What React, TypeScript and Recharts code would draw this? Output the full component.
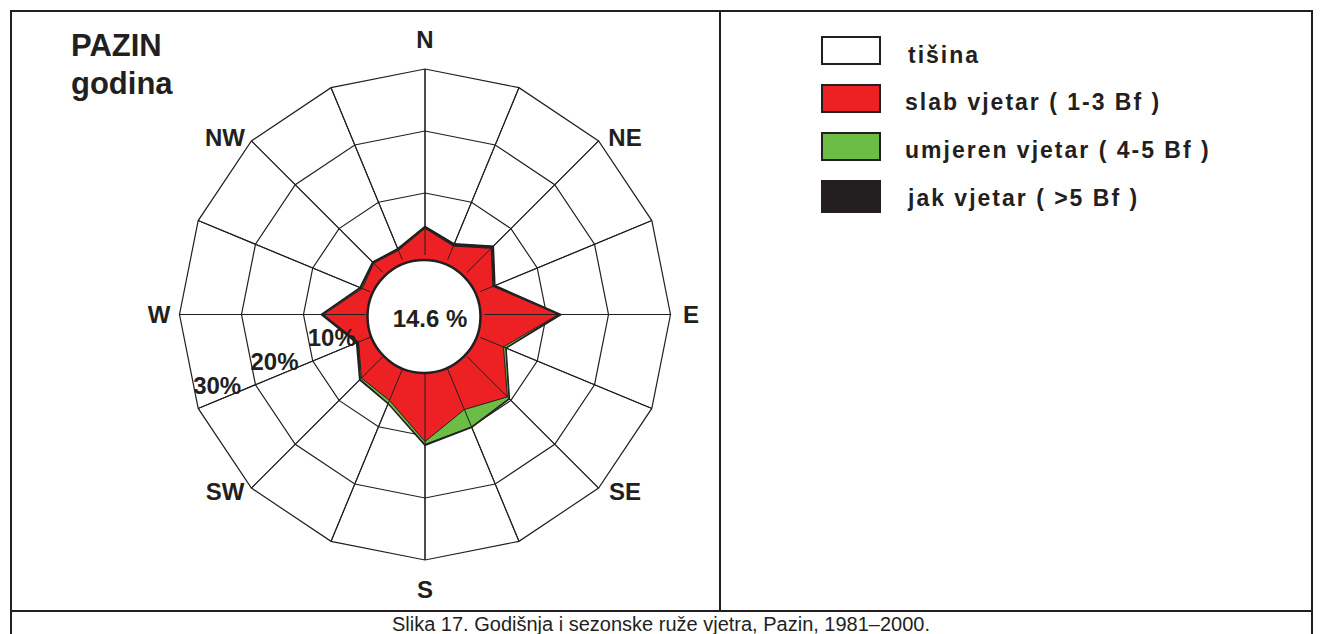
import React from "react";
import {
  RadarChart,
  Radar,
  PolarGrid,
  PolarAngleAxis,
  PolarRadiusAxis,
} from "recharts";

// 16 wind directions, N first, clockwise
const directions = [
  "N", "NNE", "NE", "ENE", "E", "ESE", "SE", "SSE",
  "S", "SSW", "SW", "WSW", "W", "WNW", "NW", "NNW",
];

// frequencies in %
const slab = [4.3, 2.35, 5.5, 2.25, 11.9, 4.1, 9.2, 7.0, 10.9, 5.4, 4.9, 2.0, 6.8, 1.35, 2.1, 1.6];
const umjeren = [0.05, 0.05, 0.15, 0.1, 0.1, 0.4, 0.35, 3.0, 0.45, 0.5, 0.25, 0.05, 0.05, 0.2, 0.05, 0.05];
const jak = [0.25, 0.35, 0.35, 0.25, 0.35, 0.05, 0.1, 0.1, 0.15, 0.05, 0.15, 0.3, 0.3, 0.2, 0.2, 0.25];
const calm = 14.6;
const radiusTicks = [0, 10, 20, 30];

const legendItems = [
  { label: "tišina", color: "#ffffff" },
  { label: "slab vjetar ( 1-3 Bf )", color: "#ed2024" },
  { label: "umjeren vjetar ( 4-5 Bf )", color: "#6bbd45" },
  { label: "jak vjetar ( >5 Bf )", color: "#231f20" },
];

// stacked rows for the radar
const rows = directions.map((dir, i) => ({
  dir,
  slab: slab[i],
  umjeren: slab[i] + umjeren[i],
  jak: slab[i] + umjeren[i] + jak[i],
}));

const CX = 425;
const CY = 314.5;
const INK = "#231f20";
const FONT = "'Liberation Sans', Arial, Helvetica, sans-serif";

function DirTick(props: any) {
  const name = String(props.payload?.value ?? "");
  if (name.length > 2) return null;
  const idx = directions.indexOf(name);
  const a = (idx * 22.5 * Math.PI) / 180;
  let x: number;
  let y: number;
  if (idx % 4 === 0) {
    x = CX + Math.sin(a) * 266;
    y = CY - Math.cos(a) * 275;
  } else {
    x = CX + Math.sign(Math.sin(a)) * 200;
    y = CY - Math.sign(Math.cos(a)) * 177;
  }
  return (
    <text
      x={x}
      y={y}
      textAnchor="middle"
      dominantBaseline="central"
      fontFamily={FONT}
      fontWeight="bold"
      fontSize={24}
      fill={INK}
    >
      {name}
    </text>
  );
}

function RingTick(props: any) {
  const { x, y, payload } = props;
  if (!payload || payload.value === 0) return null;
  return (
    <text
      x={x + 19}
      y={y - 23}
      textAnchor="middle"
      dominantBaseline="central"
      fontFamily={FONT}
      fontWeight="bold"
      fontSize={24}
      fill={INK}
    >
      {payload.value}%
    </text>
  );
}

export default function App() {
  return (
    <div
      style={{
        position: "fixed",
        left: 0,
        top: 0,
        width: 1323,
        height: 634,
        background: "#fff",
        overflow: "hidden",
        fontFamily: FONT,
      }}
    >
      {/* frame, title, legend, caption */}
      <svg width={1323} height={634} style={{ position: "absolute", left: 0, top: 0 }}>
        <g stroke={INK} strokeWidth={2}>
          <line x1={10} y1={11} x2={1313} y2={11} />
          <line x1={11} y1={10} x2={11} y2={634} />
          <line x1={1312} y1={10} x2={1312} y2={634} />
          <line x1={720} y1={11} x2={720} y2={611} />
          <line x1={10} y1={611} x2={1313} y2={611} />
        </g>
        <text x={71} y={56} fontFamily={FONT} fontWeight="bold" fontSize={31} fill={INK}>
          PAZIN
        </text>
        <text x={71} y={94} fontFamily={FONT} fontWeight="bold" fontSize={31} fill={INK}>
          godina
        </text>
        {legendItems.map((item, i) => {
          const top = 37 + i * 48;
          return (
            <g key={item.label}>
              <rect
                x={822}
                y={top}
                width={58}
                height={i === 3 ? 31 : 27}
                fill={item.color}
                stroke={INK}
                strokeWidth={2}
              />
              <text
                x={i === 0 || i === 3 ? 908 : 905}
                y={top + 26 - (i === 0 ? 0 : 1)}
                fontFamily={FONT}
                fontWeight="bold"
                fontSize={23}
                letterSpacing={2}
                fill={INK}
              >
                {item.label}
              </text>
            </g>
          );
        })}
        <text
          x={661}
          y={631}
          textAnchor="middle"
          fontFamily={FONT}
          fontSize={20}
          fill={INK}
        >
          Slika 17. Godišnja i sezonske ruže vjetra, Pazin, 1981–2000.
        </text>
      </svg>

      <div style={{ position: "absolute", left: 0, top: 0 }}>
        <RadarChart
          width={720}
          height={611}
          data={rows}
          cx={CX}
          cy={CY}
          innerRadius={59.5}
          outerRadius={245.5}
          startAngle={90}
          endAngle={-270}
          margin={{ top: 0, right: 0, bottom: 0, left: 0 }}
        >
          <PolarGrid gridType="polygon" stroke={INK} strokeWidth={1.2} />
          <PolarAngleAxis dataKey="dir" tick={DirTick} tickLine={false} axisLine={false} />
          <PolarRadiusAxis
            angle={202.5}
            domain={[0, 30]}
            ticks={radiusTicks}
            tickCount={4}
            tick={RingTick}
            axisLine={false}
            tickLine={false}
          />
          <Radar
            dataKey="jak"
            fill={INK}
            fillOpacity={1}
            stroke={INK}
            strokeWidth={1.5}
            isAnimationActive={false}
          />
          <Radar
            dataKey="umjeren"
            fill="#6bbd45"
            fillOpacity={1}
            stroke={INK}
            strokeWidth={1}
            isAnimationActive={false}
          />
          <Radar
            dataKey="slab"
            fill="#ed2024"
            fillOpacity={1}
            stroke={INK}
            strokeWidth={1}
            isAnimationActive={false}
          />
          <PolarGrid
            gridType="polygon"
            polarRadius={[]}
            stroke={INK}
            strokeWidth={1}
            zIndex={1000}
          />
        </RadarChart>
      </div>

      {/* calm circle */}
      <svg
        width={720}
        height={611}
        style={{ position: "absolute", left: 0, top: 0, pointerEvents: "none" }}
      >
        <circle cx={424} cy={316.5} r={56.5} fill="#fff" stroke={INK} strokeWidth={2.5} />
        <text
          x={430}
          y={318}
          textAnchor="middle"
          dominantBaseline="central"
          fontFamily={FONT}
          fontWeight="bold"
          fontSize={24}
          fill={INK}
        >
          {calm} %
        </text>
      </svg>
    </div>
  );
}
